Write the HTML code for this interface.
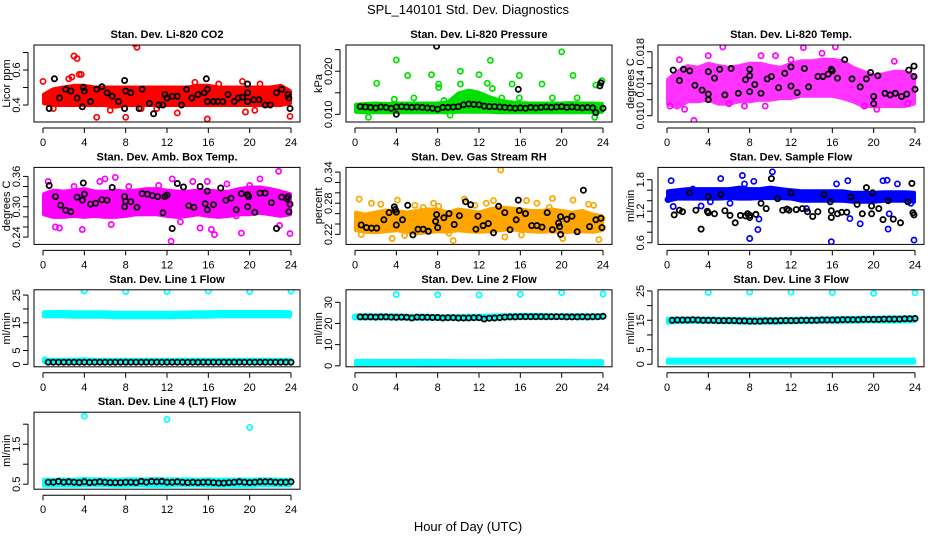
<!DOCTYPE html>
<html><head><meta charset="utf-8"><title>SPL_140101 Std. Dev. Diagnostics</title>
<style>
html,body{margin:0;padding:0;background:#fff;}
svg{display:block;font-family:"Liberation Sans",Arial,sans-serif;}
</style></head>
<body>
<svg id="chart" width="936" height="540" viewBox="0 0 936 540" xmlns="http://www.w3.org/2000/svg">
<rect x="0" y="0" width="936" height="540" fill="#fff"/>
<text x="468" y="14" font-size="13" text-anchor="middle">SPL_140101  Std. Dev. Diagnostics</text>
<text x="468" y="531" font-size="13" text-anchor="middle">Hour of Day (UTC)</text>
</svg>
<script>
const xTicks = [0,4,8,12,16,20,24];
const bandHours = [0,1,2,3,4,5,6,7,8,9,10,11,12,13,14,15,16,17,18,19,20,21,22,23,24];
const flowTimes = [0.5,1,1.5,2,2.5,3,3.5,4,4.5,5,5.5,6,6.5,7,7.5,8,8.5,9,9.5,10,10.5,11,11.5,12,12.5,13,13.5,14,14.5,15,15.5,16,16.5,17,17.5,18,18.5,19,19.5,20,20.5,21,21.5,22,22.5,23,23.5,24];

// CO2
const co2Lo = [0.41,0.40,0.40,0.40,0.40,0.40,0.40,0.39,0.40,0.40,0.40,0.40,0.40,0.40,0.40,0.40,0.40,0.40,0.40,0.40,0.40,0.40,0.40,0.40,0.41];
const co2Hi = [0.46,0.49,0.50,0.51,0.51,0.50,0.50,0.50,0.50,0.50,0.50,0.50,0.50,0.50,0.50,0.51,0.51,0.50,0.50,0.50,0.50,0.50,0.50,0.51,0.48];
const co2Pts = [[0,0.535],[2.5,0.55],[2.8,0.56],[3,0.68],[3.3,0.665],[3.5,0.575],[3.7,0.575],[5.2,0.33],[6.5,0.37],[8,0.33],[8.9,0.75],[9.1,0.73],[9.5,0.38],[13,0.355],[14.7,0.53],[15.9,0.32],[19.3,0.535],[19.6,0.36],[20.5,0.37],[23.9,0.335],[1,0.38],[11,0.38],[17,0.52],[21,0.52]];
const co2Black = [[0.6,0.38],[1.1,0.55],[1.6,0.44],[2.2,0.49],[2.7,0.48],[3.3,0.44],[3.8,0.39],[3.9,0.50],[4.0,0.48],[4.6,0.42],[5.2,0.49],[5.7,0.505],[6.2,0.47],[6.7,0.45],[7.3,0.42],[7.9,0.38],[7.9,0.54],[8.0,0.48],[8.5,0.47],[9.3,0.38],[9.6,0.49],[10.3,0.41],[10.7,0.35],[11.2,0.40],[11.6,0.40],[11.8,0.46],[12.0,0.44],[12.5,0.45],[13.0,0.45],[13.4,0.40],[13.9,0.49],[14.4,0.44],[15.0,0.46],[15.6,0.47],[15.8,0.55],[15.9,0.42],[15.9,0.49],[16.5,0.42],[16.9,0.42],[17.4,0.42],[17.9,0.46],[18.5,0.42],[18.9,0.44],[19.3,0.445],[19.8,0.47],[19.8,0.52],[19.8,0.42],[20.4,0.43],[20.9,0.43],[21.5,0.40],[22.0,0.40],[22.6,0.47],[23.1,0.49],[23.7,0.46],[23.8,0.44],[23.9,0.38]];

// Pressure
const presLo = [0.0106,0.0105,0.0105,0.0105,0.0105,0.0105,0.0105,0.0105,0.0105,0.0105,0.0106,0.0106,0.0106,0.0106,0.0105,0.0105,0.0105,0.0105,0.0105,0.0105,0.0105,0.0105,0.0105,0.0105,0.0106];
const presHi = [0.0122,0.0124,0.0125,0.0124,0.0125,0.0125,0.0125,0.0125,0.0125,0.0128,0.0148,0.0155,0.0150,0.0140,0.0132,0.0128,0.0126,0.0125,0.0125,0.0125,0.0125,0.0126,0.0125,0.0125,0.0124];
const presPts = [[1.3,0.0093],[2.1,0.0172],[3.8,0.0135],[4.0,0.0226],[5.1,0.019],[5.7,0.0138],[7.4,0.0192],[8.1,0.017],[8.1,0.0162],[8.6,0.0132],[9.2,0.0098],[10.2,0.020],[10.2,0.017],[12.0,0.0192],[12.8,0.0172],[13.1,0.0225],[13.3,0.016],[14.2,0.0138],[15.2,0.017],[15.9,0.019],[15.9,0.0138],[18.1,0.017],[19.1,0.0138],[20.0,0.0245],[21.1,0.019],[21.5,0.0138],[23.2,0.0093],[23.3,0.0168],[23.9,0.0178]];
const presBlack = [[0.5,0.0118],[1,0.0117],[1.5,0.0116],[2,0.0115],[2.5,0.0117],[3,0.0116],[3.5,0.0114],[4,0.0100],[4,0.0117],[4.5,0.0118],[5,0.0117],[5.5,0.0116],[6,0.0117],[6.5,0.0116],[7,0.0115],[7.5,0.0114],[7.9,0.0258],[8,0.0112],[8.5,0.0116],[9,0.0116],[9.5,0.0117],[10,0.0118],[10.5,0.0122],[11,0.0124],[11.5,0.0123],[12,0.0122],[12.5,0.0119],[13,0.0118],[13.5,0.0118],[14,0.0117],[14.5,0.0116],[15,0.0115],[15.5,0.0114],[15.8,0.0158],[16,0.0115],[16.5,0.0114],[17,0.0116],[17.5,0.0115],[18,0.0116],[18.5,0.0117],[19,0.0116],[19.5,0.0117],[20,0.0118],[20.5,0.0116],[21,0.0117],[21.5,0.0116],[22,0.0115],[22.5,0.0116],[23,0.0115],[23.3,0.0104],[23.7,0.0166],[23.8,0.0173],[24,0.0114]];

// Li-820 Temp
const tempLo = [0.0115,0.0110,0.0118,0.0118,0.0120,0.0115,0.0115,0.0118,0.0118,0.0120,0.0120,0.0122,0.0122,0.0125,0.0125,0.0125,0.0125,0.0122,0.0118,0.0112,0.0112,0.0112,0.0112,0.0112,0.0115];
const tempHi = [0.0145,0.0155,0.0162,0.0160,0.0165,0.0162,0.0160,0.0162,0.0165,0.0165,0.0162,0.0160,0.0165,0.0168,0.0168,0.0170,0.0170,0.0168,0.0160,0.0155,0.0150,0.0152,0.0155,0.0155,0.0150];
const tempPts = [[0.3,0.0112],[1.7,0.0108],[2.6,0.0094],[4.0,0.0175],[5.4,0.0186],[6.0,0.0115],[9.1,0.0175],[12,0.0170],[13.2,0.0185],[16.3,0.0186],[19.1,0.0112],[20.3,0.0108],[23.3,0.0115],[1.2,0.0170],[7.5,0.0112],[10.5,0.0175],[22,0.0168],[15,0.0178],[9.5,0.0112]];
const tempBlack = [[0.6,0.0157],[1.2,0.0144],[1.6,0.0158],[2.2,0.0156],[2.7,0.0138],[3.4,0.0132],[4.0,0.0155],[4.0,0.0127],[4.0,0.0120],[4.6,0.0147],[5.1,0.0158],[5.6,0.0126],[6.2,0.0159],[6.9,0.0128],[7.6,0.0145],[8.0,0.0158],[8.0,0.0150],[8.0,0.0130],[8.5,0.0139],[9.1,0.0128],[9.7,0.0146],[10.1,0.0149],[10.8,0.0135],[11.4,0.0153],[12.0,0.0161],[12.0,0.0137],[12.6,0.0129],[13.3,0.0159],[13.7,0.0136],[14.6,0.0149],[15.1,0.0149],[15.6,0.0152],[15.9,0.0158],[16.0,0.0156],[16.5,0.0147],[17.2,0.0170],[17.9,0.0146],[18.7,0.0136],[19.3,0.0146],[19.7,0.0154],[20.0,0.0115],[20.0,0.0124],[20.4,0.0150],[21.1,0.0128],[21.6,0.0126],[22.1,0.0128],[22.7,0.0124],[23.2,0.0127],[23.4,0.0157],[23.9,0.0162],[23.9,0.0149],[24.0,0.0133]];

// Amb Box Temp
const ambLo = [0.285,0.280,0.280,0.282,0.280,0.282,0.280,0.280,0.282,0.285,0.285,0.285,0.282,0.280,0.282,0.285,0.282,0.280,0.282,0.285,0.285,0.288,0.285,0.282,0.285];
const ambHi = [0.325,0.332,0.330,0.332,0.335,0.330,0.330,0.332,0.330,0.332,0.335,0.335,0.332,0.330,0.330,0.332,0.332,0.330,0.330,0.335,0.338,0.338,0.335,0.330,0.325];
const ambPts = [[0.5,0.350],[0.9,0.293],[1.2,0.260],[1.6,0.258],[2.5,0.290],[3.0,0.340],[3.5,0.290],[3.8,0.255],[4.3,0.285],[5.5,0.350],[6.0,0.355],[6.6,0.265],[7.0,0.358],[7.6,0.287],[8.3,0.340],[9.0,0.290],[10.0,0.295],[11.2,0.342],[12.4,0.232],[12.5,0.355],[13.3,0.270],[14.5,0.350],[15.2,0.258],[15.9,0.350],[16.3,0.255],[16.6,0.245],[17.8,0.345],[18.7,0.282],[19.2,0.248],[20.0,0.342],[21.0,0.355],[22.2,0.290],[22.8,0.370],[22.9,0.263],[23.9,0.247]];
const ambBlack = [[0.6,0.342],[1.2,0.320],[1.7,0.303],[2.2,0.293],[2.7,0.290],[3.3,0.319],[3.8,0.313],[3.9,0.347],[4.0,0.325],[4.6,0.305],[5.1,0.307],[5.7,0.314],[6.2,0.313],[6.7,0.338],[7.2,0.218],[7.9,0.320],[7.9,0.300],[8.0,0.311],[8.5,0.310],[9.1,0.299],[9.6,0.326],[10.1,0.325],[10.6,0.322],[11.1,0.320],[11.6,0.288],[11.8,0.320],[12.0,0.323],[12.5,0.257],[13.0,0.346],[13.6,0.339],[14.1,0.302],[14.6,0.299],[15.2,0.340],[15.7,0.306],[15.9,0.294],[15.9,0.331],[16.5,0.304],[17.2,0.337],[17.7,0.313],[18.2,0.317],[18.7,0.294],[19.2,0.326],[19.8,0.300],[19.8,0.324],[19.9,0.320],[20.5,0.289],[21.0,0.327],[21.5,0.327],[22.1,0.308],[22.6,0.257],[23.1,0.319],[23.6,0.316],[23.7,0.320],[23.8,0.290],[23.9,0.305]];

// Gas Stream RH
const rhLo = [0.228,0.225,0.224,0.226,0.228,0.225,0.222,0.224,0.226,0.225,0.228,0.226,0.225,0.226,0.228,0.230,0.228,0.226,0.225,0.226,0.224,0.225,0.226,0.225,0.228];
const rhHi = [0.262,0.258,0.262,0.266,0.265,0.262,0.265,0.268,0.268,0.262,0.268,0.265,0.262,0.268,0.272,0.270,0.268,0.265,0.265,0.268,0.265,0.262,0.265,0.258,0.255];
const rhPts = [[0.2,0.232],[0.4,0.288],[0.6,0.220],[1.6,0.280],[2.5,0.278],[3.6,0.212],[4.1,0.286],[4.8,0.218],[5.8,0.276],[6.6,0.272],[7.6,0.280],[8.1,0.274],[9.1,0.222],[9.5,0.208],[10.6,0.288],[11.6,0.276],[12.7,0.280],[13.4,0.285],[14.1,0.344],[14.5,0.215],[16.1,0.219],[16.6,0.285],[17.6,0.280],[18.8,0.272],[19.1,0.289],[20.1,0.212],[21.1,0.286],[21.9,0.230],[22.6,0.278],[23.1,0.276],[23.6,0.210],[23.9,0.250]];
const rhBlack = [[0.6,0.238],[1.1,0.233],[1.6,0.232],[2.1,0.232],[2.8,0.248],[3.3,0.262],[3.8,0.273],[3.9,0.268],[4.0,0.263],[4.0,0.238],[4.6,0.248],[5.1,0.276],[5.6,0.219],[6.1,0.230],[6.6,0.230],[7.1,0.226],[7.8,0.245],[7.9,0.258],[8.0,0.233],[8.6,0.252],[9.1,0.260],[9.6,0.239],[10.1,0.256],[10.7,0.283],[11.2,0.277],[11.7,0.230],[11.9,0.255],[12.4,0.237],[12.9,0.241],[13.4,0.223],[13.9,0.274],[14.5,0.262],[15.0,0.229],[15.6,0.248],[15.8,0.286],[15.9,0.266],[16.5,0.260],[17.1,0.237],[17.6,0.237],[18.1,0.234],[18.6,0.262],[19.1,0.229],[19.7,0.242],[19.8,0.235],[19.9,0.220],[19.9,0.254],[20.5,0.249],[21.0,0.255],[21.5,0.225],[22.1,0.305],[22.7,0.235],[23.3,0.248],[23.8,0.251],[23.9,0.233]];

// Sample Flow
const sfLo = [1.40,1.44,1.44,1.44,1.44,1.44,1.45,1.44,1.44,1.45,1.45,1.45,1.44,1.40,1.40,1.40,1.40,1.40,1.38,1.38,1.38,1.40,1.40,1.40,1.38];
const sfHi = [1.58,1.60,1.62,1.62,1.62,1.62,1.62,1.65,1.62,1.62,1.65,1.62,1.60,1.58,1.58,1.58,1.58,1.58,1.55,1.55,1.55,1.56,1.56,1.56,1.55];
const sfPts = [[0.1,1.42],[0.4,1.78],[0.6,1.29],[2.5,1.62],[3.3,1.30],[4.2,1.38],[5.2,1.82],[6.1,1.35],[7.3,1.88],[7.5,1.72],[8.0,0.68],[8.4,1.77],[8.8,0.85],[8.9,1.05],[10.2,1.95],[13.5,1.25],[15.9,0.62],[16.4,1.72],[17.5,1.78],[17.7,1.06],[18.7,0.96],[20.9,1.78],[21.4,0.86],[21.5,1.15],[22.3,1.72],[23.6,1.35],[23.9,0.65],[21.3,1.79]];
const sfBlack = [[0.7,1.13],[1.2,1.22],[1.5,1.19],[2.2,1.55],[2.8,1.22],[3.3,0.86],[3.9,1.20],[4.0,1.17],[4.0,1.48],[4.6,1.15],[5.2,1.52],[5.6,1.21],[6.1,1.12],[6.6,0.98],[7.1,1.12],[7.6,1.11],[7.8,1.15],[8.0,1.08],[8.0,1.12],[8.6,1.14],[9.1,1.35],[9.6,1.25],[10.1,1.82],[10.7,1.44],[11.2,1.22],[11.6,1.24],[11.8,1.22],[12.0,1.55],[12.5,1.23],[13.1,1.25],[13.6,1.19],[14.1,1.10],[14.6,1.19],[15.2,1.52],[15.8,1.38],[15.9,1.21],[15.9,1.08],[16.5,1.15],[16.9,1.18],[17.4,1.18],[17.8,1.47],[18.4,1.33],[18.9,1.15],[19.3,1.65],[19.8,1.15],[19.8,1.30],[19.9,1.55],[20.5,1.25],[20.9,1.04],[21.4,1.40],[21.9,1.05],[22.6,0.98],[23.3,1.38],[23.7,1.73],[23.8,1.17],[23.9,1.13]];

// Line 1 Flow
const l1BigLo = [17.3,17.3,17.3,17.2,17.2,17.2,17.2,17.0,17.0,17.0,17.0,17.0,17.0,17.1,17.1,17.2,17.2,17.3,17.3,17.3,17.3,17.3,17.3,17.3,17.3];
const l1BigHi = [18.8,18.9,18.9,18.8,18.8,18.8,18.8,18.6,18.6,18.6,18.6,18.6,18.6,18.6,18.7,18.8,18.8,18.9,18.9,18.9,18.9,18.9,18.9,18.9,18.8];
const l1SmallLo = [0.9,0.9,0.9,0.9,0.9,0.9,0.9,0.9,0.9,0.9,0.9,0.9,0.9,0.9,0.9,0.9,0.9,0.9,0.9,0.9,0.9,0.9,0.9,0.9,0.9];
const l1SmallHi = [1.7,1.7,1.7,1.7,1.8,1.7,1.7,1.7,1.7,1.7,1.7,1.7,1.7,1.7,1.7,1.7,1.7,1.7,1.7,1.7,1.7,1.7,1.7,1.7,1.7];
const l1Pts = [[4,26.5],[8,26.3],[12,26.3],[16,26.5],[20,26.3],[24,26.4],[0.2,1.6]];
const l1Black = [0.8,0.8,0.8,0.8,0.8,0.8,0.8,0.8,0.8,0.8,0.8,0.8,0.8,0.8,0.8,0.8,0.8,0.8,0.8,0.8,0.8,0.8,0.8,0.8,0.8,0.8,0.8,0.8,0.8,0.8,0.8,0.8,0.8,0.8,0.8,0.8,0.8,0.8,0.8,0.8,0.8,0.8,0.8,0.8,0.8,0.8,0.8,0.8];

// Line 2 Flow
const l2BigLo = [22.5,22.4,22.4,22.4,22.3,22.3,22.2,22.2,22.2,22.2,22.2,22.2,22.2,22.3,22.4,22.5,22.6,22.6,22.6,22.6,22.6,22.6,22.5,22.5,22.6];
const l2BigHi = [23.8,23.8,23.8,23.8,23.8,23.6,23.6,23.6,23.5,23.5,23.5,23.6,23.6,23.7,23.8,23.9,24.0,24.0,24.0,23.9,23.9,23.9,23.9,23.9,23.9];
const l2SmallLo = [0.7,0.8,0.8,0.8,0.8,0.8,0.8,0.7,0.8,0.8,0.8,0.8,0.8,0.8,0.8,0.8,0.8,0.8,0.8,0.8,0.8,0.8,0.8,0.8,0.8];
const l2SmallHi = [2.3,2.3,2.3,2.3,2.3,2.3,2.3,2.3,2.3,2.3,2.2,2.2,2.2,2.2,2.3,2.3,2.3,2.3,2.3,2.3,2.3,2.3,2.2,2.2,2.2];
const l2Pts = [[4,33.7],[8,33.6],[12,33.5],[16,33.8],[20,34.6],[24,33.9],[0,23.1]];
const l2Black = [23.1,23.1,23.1,23.0,23.1,23.1,23.0,22.9,23.0,22.9,22.6,23.0,22.9,22.9,22.8,22.8,22.6,22.7,22.7,22.6,22.6,22.6,22.7,22.7,22.1,22.5,22.6,22.7,23.0,23.1,23.1,23.2,23.2,23.2,23.2,23.2,23.2,23.2,23.2,23.2,23.1,23.1,23.1,23.2,23.1,23.2,23.2,23.4];

// Line 3 Flow
const l3BigLo = [14.2,14.4,14.4,14.4,14.4,14.3,14.3,14.2,14.2,14.2,14.2,14.2,14.3,14.3,14.4,14.5,14.5,14.5,14.5,14.6,14.6,14.6,14.6,14.7,14.7];
const l3BigHi = [15.5,15.6,15.6,15.6,15.6,15.5,15.5,15.4,15.4,15.4,15.4,15.4,15.5,15.5,15.6,15.7,15.7,15.8,15.8,15.9,15.9,15.9,16.0,16.0,16.0];
const l3SmallLo = [0.5,0.5,0.5,0.5,0.5,0.5,0.5,0.5,0.5,0.5,0.5,0.5,0.5,0.5,0.5,0.5,0.5,0.5,0.5,0.5,0.5,0.5,0.5,0.5,0.5];
const l3SmallHi = [1.6,1.6,1.6,1.6,1.6,1.6,1.6,1.6,1.6,1.6,1.6,1.6,1.6,1.6,1.6,1.6,1.6,1.6,1.6,1.6,1.6,1.6,1.6,1.6,1.6];
const l3Pts = [[4,24.5],[8,24.6],[12,24.6],[16,24.5],[20,24.2],[24,24.4]];
const l3Black = [15.0,15.1,15.1,15.1,15.2,15.1,15.0,15.0,15.0,14.9,14.9,14.9,14.9,14.8,14.8,14.7,14.7,14.7,14.8,14.8,14.8,14.9,14.9,14.9,14.9,15.0,15.0,15.0,15.0,15.1,15.1,15.1,15.1,15.2,15.2,15.2,15.2,15.3,15.3,15.3,15.3,15.4,15.4,15.4,15.4,15.5,15.5,15.6];

// Line 4 (LT) Flow
const l4Lo = [0.46,0.46,0.47,0.46,0.47,0.47,0.47,0.46,0.46,0.47,0.46,0.46,0.46,0.47,0.47,0.47,0.46,0.46,0.46,0.46,0.46,0.47,0.47,0.47,0.47];
const l4Hi = [0.61,0.61,0.62,0.61,0.63,0.62,0.62,0.61,0.62,0.62,0.62,0.63,0.62,0.62,0.62,0.61,0.62,0.61,0.61,0.62,0.61,0.62,0.62,0.61,0.61];
const l4Pts = [[4,2.20],[12,2.12],[20,1.92]];
const l4Black = [0.55,0.55,0.57,0.55,0.56,0.55,0.54,0.56,0.54,0.55,0.56,0.55,0.54,0.54,0.54,0.55,0.55,0.54,0.57,0.55,0.57,0.56,0.57,0.55,0.55,0.56,0.55,0.54,0.55,0.54,0.55,0.55,0.54,0.53,0.53,0.54,0.55,0.56,0.55,0.54,0.55,0.56,0.56,0.56,0.55,0.55,0.55,0.56];

const panels = [
 {name:'co2', title:'Stan. Dev. Li-820 CO2', ylab:'Licor ppm', ymin:0.303, ymax:0.743, ticks:[0.4,0.5,0.6,0.7], labels:['0.4','','0.6',''], color:'#ff0000', op:1, bands:[[co2Lo,co2Hi]], pts:co2Pts, black:co2Black},
 {name:'pressure', title:'Stan. Dev. Li-820 Pressure', ylab:'kPa', ymin:0.00822, ymax:0.02608, ticks:[0.010,0.015,0.020,0.025], labels:['0.010','','0.020',''], color:'#00e000', op:1, bands:[[presLo,presHi]], pts:presPts, black:presBlack},
 {name:'li820-temp', title:'Stan. Dev. Li-820 Temp.', ylab:'degrees C', ymin:0.00921, ymax:0.01884, ticks:[0.010,0.012,0.014,0.016,0.018], labels:['0.010','','0.014','','0.018'], color:'#ff00ff', op:0.8, bands:[[tempLo,tempHi]], pts:tempPts, black:tempBlack},
 {name:'amb-box-temp', title:'Stan. Dev. Amb. Box Temp.', ylab:'degrees C', ymin:0.2256, ymax:0.3778, ticks:[0.24,0.26,0.28,0.30,0.32,0.34,0.36], labels:['0.24','','','0.30','','','0.36'], color:'#ff00ff', op:1, bands:[[ambLo,ambHi]], pts:ambPts, black:ambBlack},
 {name:'gas-stream-rh', title:'Stan. Dev. Gas Stream RH', ylab:'percent', ymin:0.2007, ymax:0.349, ticks:[0.22,0.24,0.26,0.28,0.30,0.32,0.34], labels:['0.22','','','0.28','','','0.34'], color:'#ffa500', op:1, bands:[[rhLo,rhHi]], pts:rhPts, black:rhBlack},
 {name:'sample-flow', title:'Stan. Dev. Sample Flow', ylab:'ml/min', ymin:0.568, ymax:2.034, ticks:[0.6,0.8,1.0,1.2,1.4,1.6,1.8], labels:['0.6','','','1.2','','','1.8'], color:'#0000ff', op:1, bands:[[sfLo,sfHi]], pts:sfPts, black:sfBlack},
 {name:'line1-flow', title:'Stan. Dev. Line 1 Flow', ylab:'ml/min', ymin:-0.87, ymax:26.9, ticks:[0,5,10,15,20,25], labels:['0','5','','15','','25'], color:'#00ffff', op:1, bands:[[l1BigLo,l1BigHi],[l1SmallLo,l1SmallHi]], pts:l1Pts, blackVals:l1Black},
 {name:'line2-flow', title:'Stan. Dev. Line 2 Flow', ylab:'ml/min', ymin:-0.47, ymax:35.9, ticks:[0,10,20,30], labels:['0','10','20','30'], color:'#00ffff', op:1, bands:[[l2BigLo,l2BigHi],[l2SmallLo,l2SmallHi]], pts:l2Pts, blackVals:l2Black},
 {name:'line3-flow', title:'Stan. Dev. Line 3 Flow', ylab:'ml/min', ymin:-0.87, ymax:25.4, ticks:[0,5,10,15,20,25], labels:['0','5','','15','','25'], color:'#00ffff', op:1, bands:[[l3BigLo,l3BigHi],[l3SmallLo,l3SmallHi]], pts:l3Pts, blackVals:l3Black},
 {name:'line4-flow', title:'Stan. Dev. Line 4 (LT) Flow', ylab:'ml/min', ymin:0.375, ymax:2.3, ticks:[0.5,1.0,1.5,2.0], labels:['0.5','','1.5',''], color:'#00ffff', op:1, bands:[[l4Lo,l4Hi]], pts:l4Pts, blackVals:l4Black}
];

const NS = 'http://www.w3.org/2000/svg';
const svg = document.getElementById('chart');
function mk(tag, attrs, parent){
  const e = document.createElementNS(NS, tag);
  for (const k in attrs) e.setAttribute(k, attrs[k]);
  (parent||svg).appendChild(e);
  return e;
}

panels.forEach((p, i) => {
  const c = i % 3, r = Math.floor(i / 3);
  const L = 34 + 312*c, R = 300 + 312*c;
  const T = 45 + 122.4*r, B = T + 77;
  const x0 = 43 + 312*c, x1 = 291 + 312*c;
  const xs = h => x0 + (h/24)*(x1 - x0);
  const ys = v => B - (v - p.ymin)/(p.ymax - p.ymin)*(B - T);

  const g = mk('g', {});
  
  

  const clipId = 'clip' + i;
  const cp = mk('clipPath', {id: clipId}, g);
  mk('rect', {x: L, y: T, width: R-L, height: B-T}, cp);
  const plot = mk('g', {'clip-path': 'url(#' + clipId + ')'}, g);
  
  

  p.bands.forEach((b, bi) => {
    const lo = b[0], hi = b[1];
    let d = '';
    bandHours.forEach((h, k) => { d += (k ? 'L' : 'M') + xs(Math.min(Math.max(h,0.1),23.9)).toFixed(1) + ' ' + ys(hi[k]).toFixed(1); });
    for (let k = bandHours.length-1; k >= 0; k--) d += 'L' + xs(Math.min(Math.max(bandHours[k],0.1),23.9)).toFixed(1) + ' ' + ys(lo[k]).toFixed(1);
    d += 'Z';
    const band = mk('path', {d: d, fill: p.color, stroke: p.color, 'stroke-width': 4, 'stroke-linejoin': 'round', opacity: p.op}, plot);
    
    
  });

  p.pts.forEach(pt => {
    const m = mk('circle', {cx: xs(pt[0]).toFixed(1), cy: ys(pt[1]).toFixed(1), r: 2.6, fill: 'none', stroke: p.color, 'stroke-width': 1.7}, plot);
    
    
  });

  const blackList = p.black ? p.black : p.blackVals.map((v, k) => [flowTimes[k], v]);
  blackList.forEach(pt => {
    const m = mk('circle', {cx: xs(pt[0]).toFixed(1), cy: ys(pt[1]).toFixed(1), r: 2.6, fill: 'none', stroke: '#000', 'stroke-width': 1.8}, plot);
    
    
  });

  const box = mk('rect', {x: L, y: T, width: R-L, height: B-T, fill: 'none', stroke: '#000', 'stroke-width': 1}, g);
  
  

  const tt = mk('text', {x: (L+R)/2, y: T - 7, 'font-size': 11, 'font-weight': 'bold', 'text-anchor': 'middle'}, g);
  tt.textContent = p.title;
  
  

  const xa = mk('line', {x1: xs(0), x2: xs(24), y1: B + 6, y2: B + 6, stroke: '#000'}, g);
  
  
  xTicks.forEach(t => {
    mk('line', {x1: xs(t), x2: xs(t), y1: B + 6, y2: B + 11, stroke: '#000'}, g);
    const lab = mk('text', {x: xs(t), y: B + 24, 'font-size': 11, 'text-anchor': 'middle'}, g);
    lab.textContent = t;
    
    
  });

  const yt0 = ys(p.ticks[0]), yt1 = ys(p.ticks[p.ticks.length-1]);
  const ya = mk('line', {x1: L - 6, x2: L - 6, y1: yt0, y2: yt1, stroke: '#000'}, g);
  
  
  p.ticks.forEach((t, k) => {
    const y = ys(t);
    mk('line', {x1: L - 11, x2: L - 6, y1: y, y2: y, stroke: '#000'}, g);
    if (p.labels[k]) {
      const lab = mk('text', {x: L - 14, y: y, 'font-size': 11, 'text-anchor': 'middle', transform: 'rotate(-90 ' + (L-14) + ' ' + y + ')'}, g);
      lab.textContent = p.labels[k];
      
      
    }
  });
  const yl = mk('text', {x: L - 24, y: (T+B)/2, 'font-size': 11, 'text-anchor': 'middle', transform: 'rotate(-90 ' + (L-24) + ' ' + ((T+B)/2) + ')'}, g);
  yl.textContent = p.ylab;
  
  
});
</script>
</body></html>
